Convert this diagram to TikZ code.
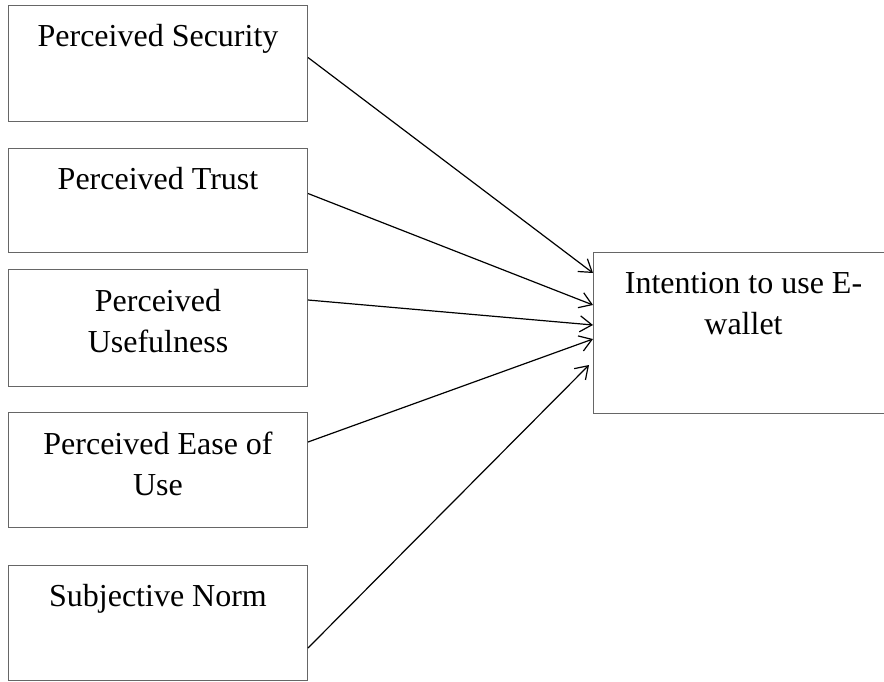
\documentclass[tikz,border=0pt]{standalone}
\usepackage{fontspec}
\setmainfont{Liberation Serif}
\usetikzlibrary{arrows.meta}
\tikzset{
  box/.style={rectangle, draw=black!60, line width=0.5pt, anchor=north west, inner sep=0pt},
  lbl/.style={font=\fontsize{16}{20.5}\selectfont, align=center, anchor=base, inner sep=0pt, yshift=-20.5pt},
  lbltwo/.style={font=\fontsize{16}{20.5}\selectfont, align=center, anchor=base, inner sep=0pt, yshift=-41.5pt},
  link/.style={line width=0.6pt, -{Straight Barb[length=6pt, width=8pt]}},
}

\begin{document}
\begin{tikzpicture}[x=0.5pt, y=-0.5pt]
  \useasboundingbox (0,0) rectangle (884,681);

  % --- FACTORS (left column) ---
  \node[box, minimum width=149.5pt, minimum height=58pt,
    label={[lbl]north:Perceived Security}] (ps) at (8,5) {};
  \node[box, minimum width=149.5pt, minimum height=52pt,
    label={[lbl]north:Perceived Trust}] (pt) at (8,148) {};
  \node[box, minimum width=149.5pt, minimum height=58.5pt,
    label={[lbltwo]north:Perceived\\Usefulness}] (pu) at (8,269) {};
  \node[box, minimum width=149.5pt, minimum height=57.5pt,
    label={[lbltwo]north:Perceived Ease of\\Use}] (pe) at (8,412) {};
  \node[box, minimum width=149.5pt, minimum height=57.5pt,
    label={[lbl]north:Subjective Norm}] (sn) at (8,565) {};

  % --- OUTCOME (right) ---
  \node[box, minimum width=150pt, minimum height=80.5pt,
    label={[lbltwo, yshift=0.5pt]north:Intention to use E-\\wallet}] (iw) at (593,252) {};

  % --- PATHS ---
  \draw[link] ([yshift=3pt]ps.east) -- ([yshift=30pt]iw.west);
  \draw[link] ([yshift=3.5pt]pt.east) -- ([yshift=14pt]iw.west);
  \draw[link] ([yshift=14pt]pu.east) -- ([yshift=4pt]iw.west);
  \draw[link] ([yshift=14pt]pe.east) -- ([yshift=-3pt]iw.west);
  \draw[link] ([yshift=-12.5pt]sn.east) -- ([xshift=-2pt, yshift=-16pt]iw.west);

\end{tikzpicture}
\end{document}
